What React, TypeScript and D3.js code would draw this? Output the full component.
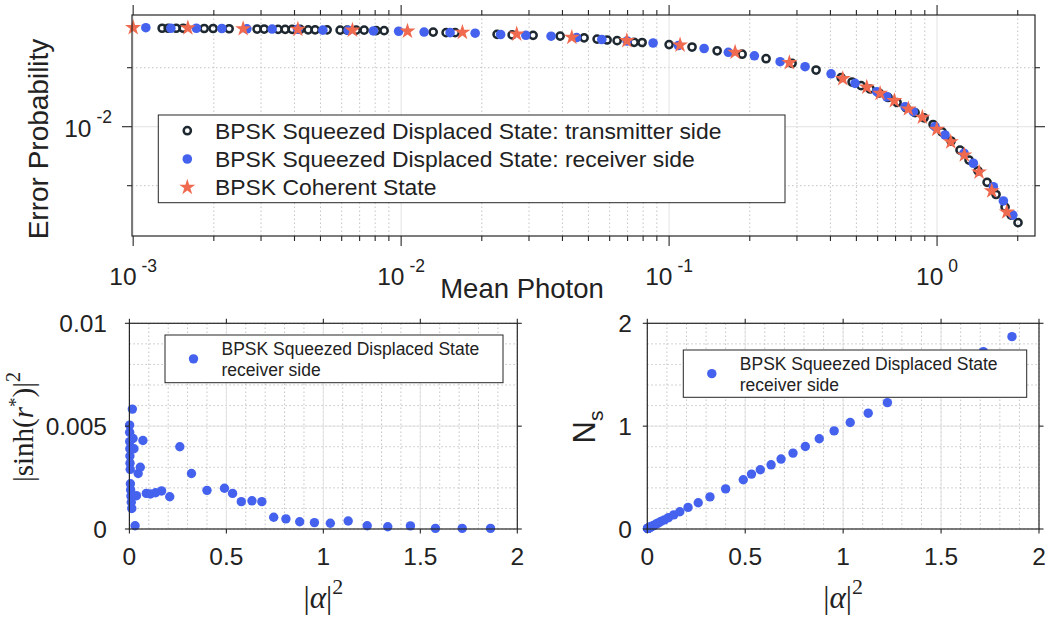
import React from "react";
import * as d3 from "d3";

// ---- top panel: error probability vs mean photon number
const txPhoton = [0.001283, 0.001351, 0.001447, 0.001537, 0.001841, 0.001988, 0.002281, 0.002901, 0.003082, 0.003475, 0.003692, 0.003921, 0.004199, 0.004498, 0.004776, 0.005295, 0.005921, 0.006288, 0.006795, 0.007277, 0.008068, 0.008641, 0.01317, 0.01472, 0.01591, 0.02281, 0.02596, 0.03108, 0.03921, 0.04817, 0.05387, 0.05871, 0.06397, 0.07403, 0.07931, 0.1, 0.1218, 0.1511, 0.1873, 0.2301, 0.2877, 0.3536, 0.4384, 0.4818, 0.5205, 0.5623, 0.6075, 0.6564, 0.7091, 0.7662, 0.8278, 0.8944, 0.9663, 1.044, 1.128, 1.218, 1.316, 1.422, 1.537, 1.66, 1.794, 1.889, 2.005];
const txError = [0.0318, 0.0318, 0.0318, 0.0318, 0.0317, 0.0317, 0.0316, 0.0315, 0.0315, 0.0314, 0.0314, 0.0314, 0.0314, 0.0312, 0.0312, 0.0312, 0.0311, 0.0311, 0.0311, 0.0311, 0.0309, 0.0309, 0.0304, 0.0302, 0.0302, 0.0296, 0.0294, 0.02926, 0.029, 0.0284, 0.028, 0.0277, 0.02747, 0.02696, 0.0269, 0.02625, 0.0255, 0.0244, 0.02344, 0.02223, 0.02106, 0.01946, 0.0178, 0.0169, 0.0162, 0.01557, 0.01486, 0.0141, 0.01329, 0.0125, 0.0118, 0.0111, 0.01026, 0.0094, 0.00845, 0.0076, 0.00676, 0.00595, 0.0052, 0.00451, 0.00389, 0.00354, 0.00324];

const rxPhoton = [0.001115, 0.001382, 0.001721, 0.002143, 0.002657, 0.003301, 0.004111, 0.005103, 0.006343, 0.00788, 0.00979, 0.01218, 0.01523, 0.01889, 0.02351, 0.0292, 0.03628, 0.04518, 0.05609, 0.06972, 0.08716, 0.1083, 0.1351, 0.1664, 0.2081, 0.2596, 0.3217, 0.4022, 0.4943, 0.5957, 0.6492, 0.7598, 0.8157, 0.9829, 1.071, 1.261, 1.366, 1.622, 1.768, 1.917];
const rxError = [0.032, 0.0318, 0.0318, 0.0317, 0.0316, 0.0315, 0.0314, 0.0311, 0.031, 0.0308, 0.0307, 0.0304, 0.0302, 0.03, 0.02954, 0.02926, 0.02895, 0.0285, 0.02786, 0.02737, 0.02673, 0.02596, 0.02506, 0.02397, 0.023, 0.02146, 0.02024, 0.01862, 0.01664, 0.01509, 0.01422, 0.01265, 0.01193, 0.01, 0.00907, 0.00732, 0.00651, 0.00494, 0.00418, 0.00354];

const cohPhoton = [0.001, 0.0016, 0.002573, 0.004118, 0.00658, 0.01056, 0.01693, 0.027, 0.04335, 0.06955, 0.1099, 0.1763, 0.2811, 0.4447, 0.5466, 0.6129, 0.6929, 0.7816, 0.8812, 0.9975, 1.125, 1.264, 1.435, 1.6, 1.82];
const cohError = [0.032, 0.0319, 0.0316, 0.0314, 0.0311, 0.0307, 0.0303, 0.0297, 0.02858, 0.02747, 0.0261, 0.02397, 0.02121, 0.01757, 0.0159, 0.0148, 0.01358, 0.01231, 0.01117, 0.0097, 0.00836, 0.00717, 0.00587, 0.0047, 0.00367];

const topXTicks = [0.001, 0.01, 0.1, 1];
const topXExp = ["-3", "-2", "-1", "0"];
const topYTicks = [0.01];
const topYExp = ["-2"];
const topYMinor = [0.005, 0.02];
const topLegend = [
  "BPSK Squeezed Displaced State: transmitter side",
  "BPSK Squeezed Displaced State: receiver side",
  "BPSK Coherent State",
];

// ---- bottom panels (receiver side)
const alpha2 = [0.00112, 0.00138, 0.00172, 0.00214, 0.00266, 0.0033, 0.00411, 0.0051, 0.00634, 0.00788, 0.0098, 0.0122, 0.0152, 0.0189, 0.0235, 0.0292, 0.0363, 0.0452, 0.0561, 0.0697, 0.0872, 0.108, 0.135, 0.166, 0.208, 0.26, 0.32, 0.4, 0.49, 0.532, 0.577, 0.632, 0.683, 0.744, 0.807, 0.878, 0.954, 1.036, 1.128, 1.226, 1.332, 1.449, 1.578, 1.716, 1.862];
const sinh2 = [0.00505, 0.0047, 0.00425, 0.0039, 0.00355, 0.0032, 0.0029, 0.0022, 0.0019, 0.0016, 0.0013, 0.001, 0.00583, 0.0044, 0.0039, 0.00016, 0.00162, 0.0027, 0.003, 0.0043, 0.00173, 0.0017, 0.00176, 0.00185, 0.00157, 0.004, 0.0027, 0.00188, 0.00198, 0.00173, 0.00133, 0.00137, 0.00133, 0.00057, 0.00049, 0.00035, 0.00031, 0.00028, 0.00039, 0.00016, 0.00011, 0.00015, 0.00003, 0.00003, 0.00003];
const nS = [0.006, 0.006, 0.006, 0.006, 0.0062, 0.0065, 0.007, 0.0073, 0.0082, 0.0095, 0.011, 0.013, 0.021, 0.023, 0.027, 0.029, 0.038, 0.048, 0.059, 0.074, 0.089, 0.11, 0.137, 0.168, 0.21, 0.255, 0.312, 0.39, 0.479, 0.534, 0.576, 0.624, 0.68, 0.738, 0.802, 0.877, 0.954, 1.035, 1.126, 1.229, 1.33, 1.45, 1.58, 1.724, 1.87];

const botXTicks = [0, 0.5, 1, 1.5, 2];
const botXLabels = ["0", "0.5", "1", "1.5", "2"];
const leftYTicks = [0, 0.005, 0.01];
const leftYLabels = ["0", "0.005", "0.01"];
const rightYTicks = [0, 1, 2];
const rightYLabels = ["0", "1", "2"];
const botLegend = ["BPSK Squeezed Displaced State", "receiver side"];

const AX = "#262626";
const BLUE = "#4462ee";
const DARK = "#1e2830";
const ORANGE = "#ef6a4f";
const MAJ = "#e3e3e3";
const MIN = "#c4c4c4";
const SANS = "'Liberation Sans', Arial, Helvetica, sans-serif";
const SERIF = "'Liberation Serif', 'Times New Roman', serif";

const starPath = d3.symbol().type(d3.symbolStar).size(80)() as string;

function TopPanel() {
  const x = d3.scaleLog().domain([0.00099, 2.32]).range([132, 1035]);
  const y = d3.scaleLog().domain([0.002769, 0.03715]).range([236, 15]);
  const [xl, xr] = x.range();
  const [yb, yt] = y.range();
  const minorX = x.ticks().filter((v) => !topXTicks.some((t) => Math.abs(v - t) / t < 1e-6));
  const lx = 187.3;
  const rows = [130.7, 159, 187.3];

  return (
    <g fontFamily={SANS} fill="#222">
      {/* grid */}
      {minorX.map((v, i) => (
        <line key={"gx" + i} x1={x(v)} x2={x(v)} y1={yb} y2={yt} stroke={MIN} strokeDasharray="1.5,2.5" />
      ))}
      {topYMinor.map((v, i) => (
        <line key={"gy" + i} x1={xl} x2={xr} y1={y(v)} y2={y(v)} stroke={MIN} strokeDasharray="1.5,2.5" />
      ))}
      {topXTicks.map((v, i) => (
        <line key={"Gx" + i} x1={x(v)} x2={x(v)} y1={yb} y2={yt} stroke={MAJ} />
      ))}
      {topYTicks.map((v, i) => (
        <line key={"Gy" + i} x1={xl} x2={xr} y1={y(v)} y2={y(v)} stroke={MAJ} />
      ))}

      {/* data */}
      {txPhoton.map((v, i) => (
        <circle key={"tx" + i} cx={x(v)} cy={y(txError[i])} r={3.6} fill="none" stroke={DARK} strokeWidth={2.5} />
      ))}
      {rxPhoton.map((v, i) => (
        <circle key={"rx" + i} cx={x(v)} cy={y(rxError[i])} r={4.8} fill={BLUE} />
      ))}
      {cohPhoton.map((v, i) => (
        <path key={"co" + i} d={starPath} transform={`translate(${x(v)},${y(cohError[i])})`} fill={ORANGE} />
      ))}

      {/* legend */}
      <rect x={158.3} y={115} width={626.7} height={87.7} fill="white" stroke={AX} strokeWidth={1} />
      <circle cx={lx} cy={rows[0]} r={3.6} fill="none" stroke={DARK} strokeWidth={2.5} />
      <circle cx={lx} cy={rows[1]} r={4.8} fill={BLUE} />
      <path d={starPath} transform={`translate(${lx},${rows[2]})`} fill={ORANGE} />
      {topLegend.map((t, i) => (
        <text key={"lg" + i} x={215} y={rows[i] + 8} fontSize={22.9}>{t}</text>
      ))}

      {/* box and ticks */}
      <rect x={xl} y={yt} width={xr - xl} height={yb - yt} fill="none" stroke={AX} strokeWidth={1.2} />
      {x.ticks().map((v, i) => {
        const major = topXTicks.some((t) => Math.abs(v - t) / t < 1e-6);
        const len = major ? 10 : 5;
        return (
          <g key={"tx" + i} stroke={AX} strokeWidth={1.1}>
            <line x1={x(v)} x2={x(v)} y1={yb} y2={yb + len} />
            <line x1={x(v)} x2={x(v)} y1={yt} y2={yt - len} />
          </g>
        );
      })}
      {[...topYTicks, ...topYMinor].map((v, i) => {
        const len = topYTicks.includes(v) ? 10 : 5;
        return (
          <g key={"ty" + i} stroke={AX} strokeWidth={1.1}>
            <line x1={xl} x2={xl - len} y1={y(v)} y2={y(v)} />
            <line x1={xr} x2={xr + len} y1={y(v)} y2={y(v)} />
          </g>
        );
      })}
      {topXTicks.map((v, i) => (
        <text key={"xl" + i} x={x(v)} y={285} textAnchor="middle" fontSize={24.5}>
          10<tspan dx={5} dy={-13} fontSize={17.5}>{topXExp[i]}</tspan>
        </text>
      ))}
      {topYTicks.map((v, i) => (
        <text key={"yl" + i} x={112} y={y(v) + 10.5} textAnchor="end" fontSize={24.5}>
          10<tspan dx={5} dy={-14} fontSize={17.5}>{topYExp[i]}</tspan>
        </text>
      ))}
      <text x={522} y={298} textAnchor="middle" fontSize={27.5}>Mean Photon</text>
      <text transform="translate(48,139) rotate(-90)" textAnchor="middle" fontSize={28}>Error Probability</text>
    </g>
  );
}

type BotProps = {
  xr: [number, number];
  yDomain: [number, number];
  yMinorCount: number;
  yVals: number[];
  yTicks: number[];
  yLabels: string[];
  yLabelX: number;
  legend: { x: number; y: number; w: number; h: number };
  ylabel: React.ReactNode;
};

function BottomPanel({ xr, yDomain, yMinorCount, yVals, yTicks, yLabels, yLabelX, legend, ylabel }: BotProps) {
  const x = d3.scaleLinear().domain([0, 2]).range(xr);
  const y = d3.scaleLinear().domain(yDomain).range([529, 323.3]);
  const [x0, x1] = x.range();
  const [y0, y1] = y.range();
  const minorX = x.ticks(20);
  const minorY = y.ticks(yMinorCount);
  const majorY = yTicks.slice(1, -1);
  const majorX = botXTicks.slice(1, -1);
  const t = 4.5;
  return (
    <g fontFamily={SANS} fill="#222">
      {minorX.map((v, i) => (
        <line key={"mx" + i} x1={x(v)} x2={x(v)} y1={y0} y2={y1} stroke={MIN} strokeDasharray="1.5,2.5" />
      ))}
      {minorY.map((v, i) => (
        <line key={"my" + i} x1={x0} x2={x1} y1={y(v)} y2={y(v)} stroke={MIN} strokeDasharray="1.5,2.5" />
      ))}
      {majorX.map((v, i) => (
        <line key={"Mx" + i} x1={x(v)} x2={x(v)} y1={y0} y2={y1} stroke={MAJ} />
      ))}
      {majorY.map((v, i) => (
        <line key={"My" + i} x1={x0} x2={x1} y1={y(v)} y2={y(v)} stroke={MAJ} />
      ))}

      {alpha2.map((v, i) => (
        <circle key={"p" + i} cx={x(v)} cy={y(yVals[i])} r={4.7} fill={BLUE} />
      ))}

      <rect x={legend.x} y={legend.y} width={legend.w} height={legend.h} fill="white" stroke={AX} strokeWidth={1} />
      <circle cx={legend.x + 28.5} cy={legend.y + legend.h / 2} r={4.7} fill={BLUE} />
      {botLegend.map((s, i) => (
        <text key={"l" + i} x={legend.x + 56.5} y={legend.y + 19.5 + i * 21} fontSize={17.5}>{s}</text>
      ))}

      <rect x={x0} y={y1} width={x1 - x0} height={y0 - y1} fill="none" stroke={AX} strokeWidth={1.2} />
      {botXTicks.map((v, i) => (
        <g key={"tx" + i} stroke={AX} strokeWidth={1.1}>
          <line x1={x(v)} x2={x(v)} y1={y0} y2={y0 + t} />
          <line x1={x(v)} x2={x(v)} y1={y1} y2={y1 - t} />
        </g>
      ))}
      {yTicks.map((v, i) => (
        <g key={"ty" + i} stroke={AX} strokeWidth={1.1}>
          <line x1={x0} x2={x0 - t} y1={y(v)} y2={y(v)} />
          <line x1={x1} x2={x1 + t} y1={y(v)} y2={y(v)} />
        </g>
      ))}
      {botXTicks.map((v, i) => (
        <text key={"xl" + i} x={x(v)} y={565} textAnchor="middle" fontSize={24.5}>{botXLabels[i]}</text>
      ))}
      {yTicks.map((v, i) => (
        <text key={"yl" + i} x={yLabelX} y={y(v) + 8.5} textAnchor="end" fontSize={24.5}>{yLabels[i]}</text>
      ))}
      <text x={(x0 + x1) / 2} y={608} textAnchor="middle" fontFamily={SERIF} fontSize={31}>
        |<tspan fontStyle="italic">α</tspan>|<tspan dy={-14} fontSize={22}>2</tspan>
      </text>
      {ylabel}
    </g>
  );
}

export default function App() {
  return (
    <svg
      width={1047}
      height={618}
      viewBox="0 0 1047 618"
      style={{ position: "absolute", left: 0, top: 0, background: "white" }}
    >
      <rect width={1047} height={618} fill="white" />
      <TopPanel />
      <BottomPanel
        xr={[129.4, 517.3]}
        yDomain={[0, 0.01]}
        yMinorCount={10}
        yVals={sinh2}
        yTicks={leftYTicks}
        yLabels={leftYLabels}
        yLabelX={107}
        legend={{ x: 165, y: 335, w: 338, h: 47.7 }}
        ylabel={
          <text transform="translate(33,427) rotate(-90)" textAnchor="middle" fontFamily={SERIF} fontSize={29} fill="#222">
            |sinh(<tspan fontStyle="italic">r</tspan>
            <tspan dy={-11} fontSize={19}>*</tspan>
            <tspan dy={11}>)|</tspan>
            <tspan dy={-13} fontSize={20}>2</tspan>
          </text>
        }
      />
      <BottomPanel
        xr={[647.3, 1039]}
        yDomain={[0, 2]}
        yMinorCount={10}
        yVals={nS}
        yTicks={rightYTicks}
        yLabels={rightYLabels}
        yLabelX={632}
        legend={{ x: 683.3, y: 350, w: 343.4, h: 47.3 }}
        ylabel={
          <text transform="translate(595,427) rotate(-90)" textAnchor="middle" fontFamily={SANS} fontSize={31} fill="#222">
            N<tspan dy={8} fontSize={21}>s</tspan>
          </text>
        }
      />
    </svg>
  );
}
